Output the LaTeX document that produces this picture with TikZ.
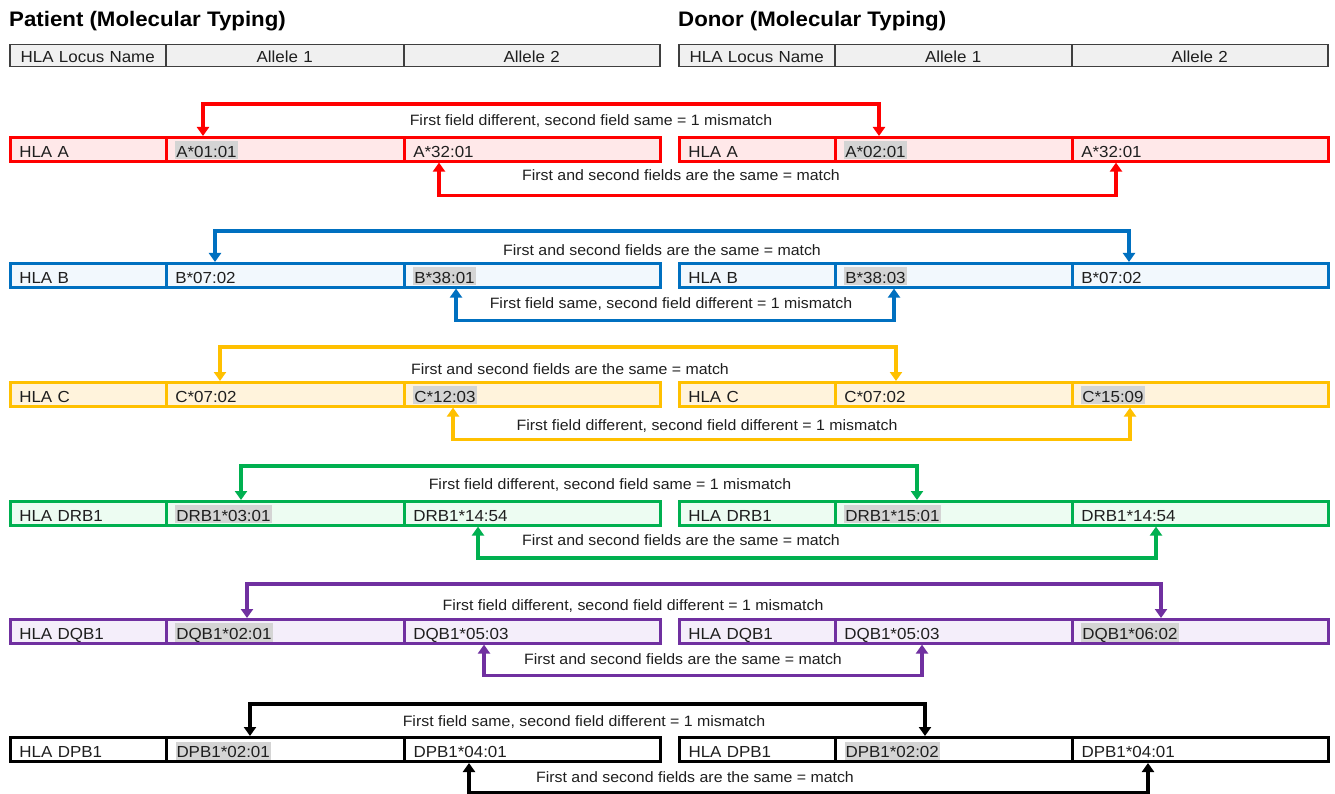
\documentclass[tikz,border=0pt]{standalone}
\usepackage{fontspec}
\setmainfont{Liberation Sans}[FakeStretch=1.06]
\usetikzlibrary{arrows.meta}
\definecolor{cRed}{HTML}{FF0000}
\definecolor{fRed}{HTML}{FFE8E9}
\definecolor{cBlue}{HTML}{0070C0}
\definecolor{fBlue}{HTML}{F2F8FD}
\definecolor{cYel}{HTML}{FFC000}
\definecolor{fYel}{HTML}{FFF3DC}
\definecolor{cGreen}{HTML}{00B050}
\definecolor{fGreen}{HTML}{EDFCF2}
\definecolor{cPurp}{HTML}{7030A0}
\definecolor{fPurp}{HTML}{F4EEFA}
\definecolor{hlgray}{HTML}{D4D4D4}
\definecolor{hdrfill}{HTML}{F0F0F0}
\definecolor{hdrline}{HTML}{3F3F3F}
\definecolor{txt}{HTML}{1F1F1F}
\newcommand{\hlbox}[1]{{\setlength{\fboxsep}{0pt}\colorbox{hlgray}{\rule[-2pt]{0pt}{18pt}\kern1pt#1\kern1pt}}}
\tikzset{
  cell/.style={draw, rectangle, anchor=north west, line width=2.6pt, inner xsep=9pt, inner ysep=0pt,
    text height=20pt, text depth=4pt, minimum height=24pt, align=left, text=txt,
    font=\fontsize{16}{19}\selectfont},
  hdr/.style={draw=hdrline, fill=hdrfill, rectangle, anchor=north west, line width=1.5pt, inner xsep=9pt, inner ysep=0pt,
    text height=17.5pt, text depth=4.5pt, minimum height=22pt, align=center, text=txt,
    font=\fontsize{16}{19}\selectfont},
  title/.style={anchor=base west, inner sep=0pt, text=black, font=\fontsize{21}{25}\selectfont\bfseries},
  lbl/.style={anchor=base, inner sep=0pt, text=txt, font=\fontsize{15}{18}\selectfont},
  conn/.style={draw=#1, line width=3.8pt, line join=miter,
    {Triangle[length=9pt,width=12pt]}-{Triangle[length=9pt,width=12pt]}},
  thin/.style={line width=3.2pt},
  thick/.style={line width=4.4pt},
  rowRed/.style={draw=cRed, fill=fRed},
  rowBlue/.style={draw=cBlue, fill=fBlue},
  rowYel/.style={draw=cYel, fill=fYel},
  rowGreen/.style={draw=cGreen, fill=fGreen},
  rowPurp/.style={draw=cPurp, fill=fPurp},
  rowBlack/.style={draw=black, fill=white, line width=3pt},
}
% id, ytop, style, locus, p1, p2, d1, d2
\newcommand{\hlarow}[8]{%
  \node[cell,#3,text width=138pt] (p#1a) at (9,#2) {#4};
  \node[cell,#3,text width=220pt] (p#1b) at (165,#2) {#5};
  \node[cell,#3,text width=238pt] (p#1c) at (403,#2) {#6};
  \node[cell,#3,text width=138pt] (d#1a) at (678,#2) {#4};
  \node[cell,#3,text width=219pt] (d#1b) at (834,#2) {#7};
  \node[cell,#3,text width=238pt] (d#1c) at (1071,#2) {#8};
}
\begin{document}
\begin{tikzpicture}[x=1pt,y=-1pt]
\useasboundingbox[fill=white] (0,0) rectangle (1335,794);

% titles
\node[title] (ptitle) at (9,27) {Patient (Molecular Typing)};
\node[title] (dtitle) at (678,27) {Donor (Molecular Typing)};

% header rows
\node[hdr,text width=138pt] (phA) at (9,44) {HLA Locus Name};
\node[hdr,text width=220pt] (phB) at (165,44) {Allele 1};
\node[hdr,text width=238pt] (phC) at (403,44) {Allele 2};
\node[hdr,text width=138pt] (dhA) at (678,44) {HLA Locus Name};
\node[hdr,text width=219pt] (dhB) at (834,44) {Allele 1};
\node[hdr,text width=238pt] (dhC) at (1071,44) {Allele 2};

% rows
\hlarow{A}{136}{rowRed}{HLA A}{\hlbox{A*01:01}}{A*32:01}{\hlbox{A*02:01}}{A*32:01}
\hlarow{B}{262}{rowBlue}{HLA B}{B*07:02}{\hlbox{B*38:01}}{\hlbox{B*38:03}}{B*07:02}
\hlarow{C}{381}{rowYel}{HLA C}{C*07:02}{\hlbox{C*12:03}}{C*07:02}{\hlbox{C*15:09}}
\hlarow{R}{500}{rowGreen}{HLA DRB1}{\hlbox{DRB1*03:01}}{DRB1*14:54}{\hlbox{DRB1*15:01}}{DRB1*14:54}
\hlarow{Q}{618}{rowPurp}{HLA DQB1}{\hlbox{DQB1*02:01}}{DQB1*05:03}{DQB1*05:03}{\hlbox{DQB1*06:02}}
\hlarow{P}{736}{rowBlack}{HLA DPB1}{\hlbox{DPB1*02:01}}{DPB1*04:01}{\hlbox{DPB1*02:02}}{DPB1*04:01}

% connectors
\draw[conn=cRed] (203,0 |- pAb.north) -- ++(0,-32) -| (879,0 |- dAb.north);
\draw[conn=cRed] (439,0 |- pAc.south) -- ++(0,33) -| (1116,0 |- dAc.south);
\draw[conn=cBlue, thick] (215,0 |- pBb.north) -- ++(0,-31) -| (1129,0 |- dBc.north);
\draw[conn=cBlue, thin] (456,0 |- pBc.south) -- ++(0,32) -| (894,0 |- dBb.south);
\draw[conn=cYel, thin] (220,0 |- pCb.north) -- ++(0,-34) -| (896,0 |- dCb.north);
\draw[conn=cYel, thin] (453,0 |- pCc.south) -- ++(0,32) -| (1130,0 |- dCc.south);
\draw[conn=cGreen, thin] (241,0 |- pRb.north) -- ++(0,-34) -| (917,0 |- dRb.north);
\draw[conn=cGreen] (478,0 |- pRc.south) -- ++(0,31) -| (1156,0 |- dRc.south);
\draw[conn=cPurp, thick] (247,0 |- pQb.north) -- ++(0,-34) -| (1161,0 |- dQc.north);
\draw[conn=cPurp, thin] (484,0 |- pQc.south) -- ++(0,31) -| (922,0 |- dQb.south);
\draw[conn=black] (250,0 |- pPb.north) -- ++(0,-32) -| (925,0 |- dPb.north);
\draw[conn=black] (469,0 |- pPc.south) -- ++(0,30) -| (1148,0 |- dPc.south);

% labels
\node[lbl] (lA1) at (591,126) {First field different, second field same = 1 mismatch};
\node[lbl] (lA2) at (681,181) {First and second fields are the same = match};
\node[lbl] (lB1) at (662,256) {First and second fields are the same = match};
\node[lbl] (lB2) at (671,308) {First field same, second field different = 1 mismatch};
\node[lbl] (lC1) at (570,374) {First and second fields are the same = match};
\node[lbl] (lC2) at (707,430) {First field different, second field different = 1 mismatch};
\node[lbl] (lR1) at (610,489) {First field different, second field same = 1 mismatch};
\node[lbl] (lR2) at (681,545) {First and second fields are the same = match};
\node[lbl] (lQ1) at (633,610) {First field different, second field different = 1 mismatch};
\node[lbl] (lQ2) at (683,664) {First and second fields are the same = match};
\node[lbl] (lP1) at (584,726) {First field same, second field different = 1 mismatch};
\node[lbl] (lP2) at (695,782) {First and second fields are the same = match};
\end{tikzpicture}
\end{document}
